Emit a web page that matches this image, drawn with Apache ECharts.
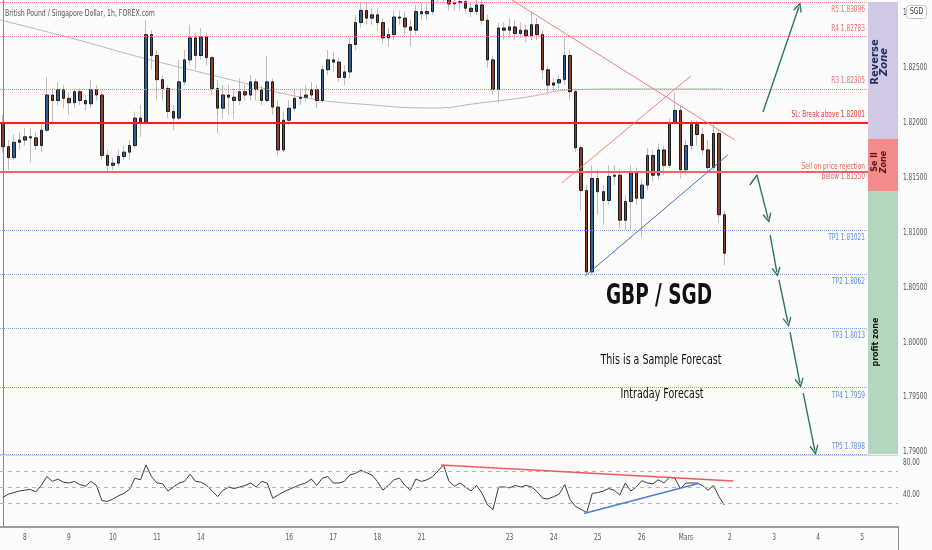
<!DOCTYPE html>
<html><head><meta charset="utf-8">
<script src="https://cdn.jsdelivr.net/npm/echarts@6/dist/echarts.min.js"></script>
<style>html,body{margin:0;padding:0;background:#fff;}#c{width:932px;height:550px;}</style>
</head><body><div id="c"></div>
<script>
// ---------- data ----------
const firstOpen = 1.8200;
const closes = [1.8178,1.8168,1.8182,1.8184,1.8187,1.8186,1.8179,1.8193,1.8225,1.8220,
1.8230,1.8222,1.8218,1.8228,1.8220,1.8217,1.8230,1.8225,1.8170,1.8161,
1.8163,1.8169,1.8173,1.8179,1.8204,1.8200,1.8280,1.8261,1.8239,1.8231,
1.8210,1.8204,1.8237,1.8257,1.8277,1.8261,1.8278,1.8259,1.8231,1.8213,
1.8225,1.8223,1.8220,1.8228,1.8225,1.8237,1.8230,1.8220,1.8237,1.8214,
1.8175,1.8202,1.8213,1.8222,1.8223,1.8225,1.8230,1.8220,1.8248,1.8257,
1.8255,1.8241,1.8246,1.8271,1.8291,1.8302,1.8295,1.8298,1.8291,1.8277,
1.8280,1.8296,1.8295,1.8287,1.8284,1.8301,1.8299,1.8301,1.8316,1.8319,
1.8316,1.8308,1.8309,1.8310,1.8304,1.8301,1.8307,1.8293,1.8257,1.8230,
1.8286,1.8284,1.8287,1.8281,1.8284,1.8279,1.8289,1.8280,1.8248,1.8234,
1.8236,1.8239,1.8261,1.8228,1.8177,1.8138,1.8064,1.8149,1.8137,1.8129,
1.8151,1.8152,1.8111,1.8128,1.8155,1.8131,1.8143,1.8170,1.8152,1.8175,
1.8161,1.8200,1.8211,1.8157,1.8179,1.8198,1.8189,1.8175,1.8159,1.8190,
1.8116,1.8081];
const highs = [1.8207,1.8184,1.8189,1.8191,1.8195,1.8195,1.8191,1.8198,1.8241,1.8231,
1.8237,1.8234,1.8228,1.8231,1.8231,1.8225,1.8239,1.8234,1.8228,1.8175,
1.8168,1.8175,1.8179,1.8184,1.8210,1.8216,1.8293,1.8284,1.8266,1.8243,
1.8234,1.8216,1.8257,1.8266,1.8289,1.8282,1.8286,1.8282,1.8261,1.8239,
1.8234,1.8234,1.8231,1.8240,1.8234,1.8243,1.8240,1.8234,1.8261,1.8240,
1.8220,1.8210,1.8220,1.8230,1.8231,1.8234,1.8237,1.8234,1.8252,1.8266,
1.8264,1.8259,1.8252,1.8277,1.8298,1.8310,1.8309,1.8304,1.8304,1.8295,
1.8286,1.8302,1.8302,1.8301,1.8293,1.8307,1.8309,1.8308,1.8322,1.8325,
1.8325,1.8319,1.8314,1.8315,1.8313,1.8309,1.8313,1.8312,1.8298,1.8261,
1.8291,1.8291,1.8295,1.8293,1.8291,1.8289,1.8300,1.8295,1.8284,1.8252,
1.8240,1.8243,1.8277,1.8266,1.8231,1.8179,1.8143,1.8161,1.8157,1.8143,
1.8161,1.8161,1.8157,1.8134,1.8161,1.8159,1.8149,1.8177,1.8175,1.8181,
1.8179,1.8204,1.8227,1.8216,1.8184,1.8202,1.8202,1.8195,1.8184,1.8198,
1.8193,1.8120];
const lows = [1.8173,1.8157,1.8166,1.8175,1.8179,1.8164,1.8175,1.8173,1.8191,1.8198,
1.8216,1.8213,1.8207,1.8213,1.8216,1.8211,1.8213,1.8220,1.8166,1.8155,
1.8157,1.8160,1.8166,1.8166,1.8177,1.8187,1.8198,1.8248,1.8220,1.8220,
1.8204,1.8193,1.8202,1.8234,1.8252,1.8248,1.8257,1.8252,1.8225,1.8190,
1.8204,1.8207,1.8204,1.8216,1.8220,1.8220,1.8220,1.8216,1.8218,1.8207,
1.8170,1.8173,1.8198,1.8210,1.8216,1.8219,1.8222,1.8213,1.8218,1.8243,
1.8246,1.8237,1.8234,1.8240,1.8266,1.8286,1.8289,1.8289,1.8284,1.8271,
1.8269,1.8275,1.8289,1.8280,1.8269,1.8280,1.8293,1.8293,1.8298,1.8310,
1.8309,1.8302,1.8302,1.8302,1.8299,1.8296,1.8298,1.8289,1.8250,1.8225,
1.8218,1.8275,1.8277,1.8275,1.8277,1.8273,1.8275,1.8275,1.8240,1.8225,
1.8228,1.8231,1.8234,1.8220,1.8173,1.8120,1.8061,1.8061,1.8116,1.8107,
1.8125,1.8143,1.8104,1.8102,1.8102,1.8125,1.8095,1.8138,1.8146,1.8148,
1.8152,1.8159,1.8198,1.8149,1.8152,1.8175,1.8179,1.8170,1.8155,1.8155,
1.8109,1.8070];
const rsi = [37,41,43,45,46,47,44,52,63,57,
60,56,55,57,53,51,57,52,33,32,
35,39,42,47,61,59,77.5,63,55,54,
45,50,55,57,66,57,56,52,45,38,
46,50,48,50,52,55,50,57,55,36,
40,44,47,50,53,55,60,52,61,63,
55,55,57,65,67,71,68,65,57,46,
52,59,61,52,46,60,57,59,63,70,
77.5,57,51,55,50,45,52,42,27.5,22,
50,50,49,52,50,52,50,44,36,35,
38,41,53,34,25.5,22,18,42,43,45,
48,46,40,55,45,50,58,55,54,59,
55,62,61,48,55,55,55,52,46,52,
38,27.5];
const maSlots  = [-0.5,11.66,25.45,32.7,43.1,54,67.2,78.1,86.6,95.2,103,112,130.7];
const maValues = [1.82933,1.82778,1.82587,1.82496,1.82368,1.82232,1.82159,1.82132,1.82177,1.82232,1.82296,1.82305,1.82305];
const dayLabels  = ['8','9','10','11','14','16','17','18','21','23','24','25','26','Mars','2','3','4','5'];
const dayOffsets = [0,1,2,3,4,6,7,8,9,11,12,13,14,15,16,17,18,19];
const priceTicks = [1.830,1.825,1.820,1.815,1.810,1.805,1.800,1.795,1.790];
const rsiTicks = [80,40];
const levelValues = [1.83096,1.82783,1.82305,1.82001,1.81550,1.81021,1.8062,1.8013,1.7959,1.7898];
const levelTexts  = ['R5 1.83096','R4 1.82783','R3 1.82305','SL: Break above 1.82001','Sell on price rejection\nbelow 1.81550','TP1 1.81021','TP2 1.8062','TP3 1.8013','TP4 1.7959','TP5 1.7898'];
const priceTrends = [[92.44,1.83115,132.9,1.8184],[101.5,1.81449,124.9,1.82423],[105.7,1.80602,131.6,1.81704]];
const rsiLevels = [70,50,30];
const rsiTrends = [[79.55,77.5,132.6,57.5],[105.5,17,126.4,54.6]];
const arrowPaths = [
  [[138.0,1.82095],[144.5,1.83051]],
  [[135.6,1.81431],[136.9,1.81522],[138.9,1.81130]],
  [[139.3,1.80975],[140.5,1.80639]],
  [[140.9,1.80566],[142.5,1.80183]],
  [[142.9,1.80092],[144.7,1.79628]],
  [[145.3,1.79537],[147.4,1.79018]]
];
const zoneWords  = [['Reverse','Zone'],['Se ll','Zone'],['profit zone']];
const zoneTop    = [1.83096,1.81849,1.81376];
const zoneBottom = [1.81849,1.81376,1.7898];
const zoneLabelAt= [1.82551,1.81640,1.80001];

// ---------- layout / style ----------
const N = 163, X_MIN = -0.5, X_MAX = N - 0.5, ZONE_X0 = 157.06;
const TXT = '"DejaVu Sans", Verdana, sans-serif';
const SQ = 0.65;
const cats = Array.from({length:N}, (_, i) => String(i));
const candles = closes.map((c,i) => { const o = i ? closes[i-1] : firstOpen; return [o, c, lows[i], highs[i]]; });
const bodies  = closes.map((c,i) => { const o = i ? closes[i-1] : firstOpen; return [o, c, Math.min(o,c), Math.max(o,c)]; });

const levelStyles = [
  {color:'#f08a8a', type:'dotted', width:1},
  {color:'#f08a8a', type:'dotted', width:1},
  {color:'#f08a8a', type:'dotted', width:1},
  {color:'#ff1f1f', type:'solid', width:2},
  {color:'#f26262', type:'solid', width:2},
  {color:'#7ea6e3', type:'dotted', width:1},
  {color:'#7ea6e3', type:'dotted', width:1},
  {color:'#7ea6e3', type:'dotted', width:1},
  {color:'#7ea6e3', type:'dotted', width:1},
  {color:'#7ea6e3', type:'dotted', width:1}
];
const levelLabelPos = ['below','above','above','above','center','below','below','below','below','above'];
const levelLabelColor = ['#f06a6a','#f06a6a','#f06a6a','#ee3333','#f05a5a','#5f8fd8','#5f8fd8','#5f8fd8','#5f8fd8','#5f8fd8'];
const zoneColors = ['#d1c9e3','#f38b8b','#b6d5be'];
const zoneTextColors = ['#1f2f5c','#5a1616','#111'];
const CHEVRON = 'path://M5,0L10,8.6L8.9,9.5L5,3L1.1,9.5L0,8.6Z';

const mainMarks = [];
levelValues.forEach((v,i) => mainMarks.push([{coord:[X_MIN, v], lineStyle:levelStyles[i]}, {coord:[ZONE_X0, v]}]));
priceTrends.forEach((t,k) => mainMarks.push([{coord:[t[0],t[1]], lineStyle:{color:k<2?'#f47c7c':'#3f74c4', width:1, type:'solid'}}, {coord:[t[2],t[3]]}]));
arrowPaths.forEach(p => {
  for (let j = 0; j < p.length - 1; j++) {
    const last = j === p.length - 2;
    mainMarks.push([{coord:p[j], lineStyle:{color:'#2d7a57', width:1.4, type:'solid'}},
                    {coord:p[j+1], symbol: last ? CHEVRON : 'none', symbolSize:[9,10]}]);
  }
});
const rsiMarks = [];
rsiLevels.forEach(v => rsiMarks.push({yAxis:v, lineStyle:{color:'#b4b4b4', type:[4,4], width:1}}));
rsiTrends.forEach((t,k) => rsiMarks.push([{coord:[t[0],t[1]], lineStyle:{color:k===0?'#f25a5a':'#4a80d0', width:1.5, type:'solid'}}, {coord:[t[2],t[3]]}]));

const chart = echarts.init(document.getElementById('c'), null, {renderer:'canvas'});
chart.setOption({
  animation:false,
  backgroundColor:'#fcfcfc',
  grid:[
    {left:0, top:0, width:898, height:455},
    {left:0, top:456, width:898, height:71}
  ],
  xAxis:[
    {type:'category', gridIndex:0, data:cats, boundaryGap:true, axisLine:{show:true, lineStyle:{color:'#d4d4d4'}}, axisTick:{show:false}, axisLabel:{show:false}, splitLine:{show:false}},
    {type:'value', gridIndex:0, min:X_MIN, max:X_MAX, show:false},
    {type:'category', gridIndex:1, data:cats, boundaryGap:true, axisLine:{show:true, lineStyle:{color:'#9c9c9c', width:2}}, axisTick:{show:false}, axisLabel:{show:false}, splitLine:{show:false}},
    {type:'value', gridIndex:1, min:X_MIN, max:X_MAX, show:false}
  ],
  yAxis:[
    {type:'value', gridIndex:0, position:'right', min:1.78973, max:1.83115, axisLine:{show:true, lineStyle:{color:'#8a8a8a'}}, axisTick:{show:false}, axisLabel:{show:false}, splitLine:{show:false}},
    {type:'value', gridIndex:1, position:'right', min:0, max:88.75, axisLine:{show:true, lineStyle:{color:'#8a8a8a'}}, axisTick:{show:false}, axisLabel:{show:false}, splitLine:{show:false}}
  ],
  series:[
    {type:'candlestick', name:'wick', xAxisIndex:0, yAxisIndex:0, data:candles, barWidth:1, silent:true, z:2,
     itemStyle:{color:'#bdbdbd', color0:'#bdbdbd', borderColor:'#bdbdbd', borderColor0:'#bdbdbd', borderWidth:1}},
    {type:'candlestick', name:'GBPSGD', xAxisIndex:0, yAxisIndex:0, data:bodies, barWidth:3, silent:true, z:3,
     itemStyle:{color:'#2f5f99', color0:'#8d3c2b', borderColor:'#1c1c1c', borderColor0:'#1c1c1c', borderWidth:1}},
    {type:'line', name:'MA', xAxisIndex:1, yAxisIndex:0, data:maSlots.map((s,i)=>[s, maValues[i]]), smooth:true, showSymbol:false, silent:true, z:1,
     lineStyle:{color:'#b8b8b8', width:1}},
    {type:'line', name:'marks', xAxisIndex:1, yAxisIndex:0, data:[], z:4,
     markLine:{silent:true, animation:false, symbol:['none','none'], label:{show:false}, data:mainMarks}},
    {type:'custom', name:'zones', xAxisIndex:1, yAxisIndex:0, clip:false, silent:true, z:5,
     data: zoneTop.map((t,k)=>[ZONE_X0, X_MAX, t, zoneBottom[k], zoneLabelAt[k], k]),
     encode:{x:[0,1], y:[2,3]},
     renderItem:(params, api) => {
       const k = api.value(5);
       const a = api.coord([api.value(0), api.value(2)]);
       const b = api.coord([api.value(1), api.value(3)]);
       const ty = api.coord([api.value(0), api.value(4)])[1];
       const cx = (a[0] + b[0]) / 2;
       const words = zoneWords[k];
       const children = [{type:'rect', shape:{x:a[0], y:a[1], width:b[0]-a[0], height:b[1]-a[1]}, style:{fill:zoneColors[k]}}];
       const offs = words.length === 2 ? [-8, 1] : [-7];
       const sizes = [10, 8, 8];
       words.forEach((w, j) => children.push({type:'text', x:cx + offs[j], y:ty, rotation:Math.PI/2,
         style:{text:w, fill:zoneTextColors[k], align:'center', verticalAlign:'middle',
                font:(j===1?'italic ':'') + 'bold ' + sizes[k] + 'px ' + TXT}}));
       return {type:'group', children};
     }},
    {type:'custom', name:'levelLabels', xAxisIndex:1, yAxisIndex:0, clip:false, silent:true, z:6,
     data: levelValues.map((v,i)=>[ZONE_X0, v, i]), encode:{x:0, y:1},
     renderItem:(params, api) => {
       const i = api.value(2);
       const p = api.coord([api.value(0), api.value(1)]);
       const pos = levelLabelPos[i];
       const y = p[1] + (pos === 'above' ? -8 : pos === 'below' ? 8 : 0);
       return {type:'text', x:p[0]-3, y, scaleX:SQ,
         style:{text:levelTexts[i], fill:levelLabelColor[i], align:'right', verticalAlign:'middle', font:'9px ' + TXT, lineHeight:10}};
     }},
    {type:'custom', name:'priceTicks', xAxisIndex:1, yAxisIndex:0, clip:false, silent:true, z:6,
     data: priceTicks.map(v=>[X_MAX, v]), encode:{x:0, y:1},
     renderItem:(params, api) => {
       const p = api.coord([api.value(0), api.value(1)]);
       return {type:'text', x:p[0]+5, y:p[1], scaleX:SQ,
         style:{text:api.value(1).toFixed(5), fill:'#555', align:'left', verticalAlign:'middle', font:'9px ' + TXT}};
     }},
    {type:'line', name:'RSI', xAxisIndex:3, yAxisIndex:1, data:rsi.map((v,i)=>[i, v]), showSymbol:false, silent:true, z:3,
     lineStyle:{color:'#3c3c3c', width:1},
     markLine:{silent:true, animation:false, symbol:['none','none'], label:{show:false}, data:rsiMarks}},
    {type:'custom', name:'rsiTicks', xAxisIndex:3, yAxisIndex:1, clip:false, silent:true, z:6,
     data: rsiTicks.map(v=>[X_MAX, v]), encode:{x:0, y:1},
     renderItem:(params, api) => {
       const p = api.coord([api.value(0), api.value(1)]);
       return {type:'text', x:p[0]+5, y:p[1], scaleX:SQ,
         style:{text:api.value(1).toFixed(2), fill:'#555', align:'left', verticalAlign:'middle', font:'9px ' + TXT}};
     }},
    {type:'custom', name:'dayTicks', xAxisIndex:3, yAxisIndex:1, clip:false, silent:true, z:6,
     data: dayOffsets.map((d,k)=>[4 + 8*d, 0, k]), encode:{x:0, y:1},
     renderItem:(params, api) => {
       const p = api.coord([api.value(0), api.value(1)]);
       return {type:'text', x:p[0], y:p[1]+11, scaleX:SQ,
         style:{text:dayLabels[api.value(2)], fill:'#555', align:'center', verticalAlign:'middle', font:'9px ' + TXT}};
     }}
  ],
  graphic:[
    {type:'text', x:5, y:14, scaleX:SQ, z:100, style:{text:'British Pound / Singapore Dollar, 1h, FOREX.com', font:'9.5px ' + TXT, fill:'#555', verticalAlign:'middle'}},
    {type:'text', x:659, y:297, scaleX:0.66, z:100, style:{text:'GBP / SGD', font:'bold 28px ' + TXT, fill:'#111', align:'center', verticalAlign:'middle'}},
    {type:'text', x:661, y:360, scaleX:0.68, z:100, style:{text:'This is a Sample Forecast', font:'14px ' + TXT, fill:'#111', align:'center', verticalAlign:'middle'}},
    {type:'text', x:662, y:394, scaleX:0.68, z:100, style:{text:'Intraday Forecast', font:'14px ' + TXT, fill:'#111', align:'center', verticalAlign:'middle'}},
    {type:'rect', z:100, shape:{x:906.5, y:5.5, width:20, height:13, r:3}, style:{fill:'#fff', stroke:'#c4c4c4', lineWidth:1}},
    {type:'text', x:916.5, y:12, scaleX:0.75, z:101, style:{text:'SGD', font:'8px ' + TXT, fill:'#333', align:'center', verticalAlign:'middle'}},
    {type:'line', z:100, shape:{x1:898.5, y1:527, x2:898.5, y2:550}, style:{stroke:'#8a8a8a', lineWidth:1}}
  ]
});
</script></body></html>
